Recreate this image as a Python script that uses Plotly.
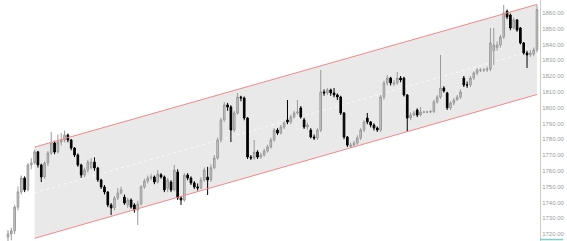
import plotly.graph_objects as go

# ---- data -------------------------------------------------------------
opens = [1718.0, 1720.0, 1722.0, 1737.0, 1746.6, 1755.4, 1748.0, 1763.7, 1765.0, 1772.0,
         1763.7, 1756.1, 1764.9, 1771.3, 1777.6, 1771.9, 1778.2, 1779.5, 1782.7, 1779.5,
         1774.4, 1770.0, 1763.7, 1757.3, 1760.5, 1762.0, 1765.6, 1761.8, 1754.2, 1749.8,
         1746.6, 1738.4, 1736.5, 1742.8, 1746.0, 1743.4, 1738.5, 1741.5, 1738.4, 1735.2,
         1739.0, 1749.8, 1753.5, 1755.4, 1756.1, 1752.9, 1757.5, 1756.1, 1749.0, 1752.9,
         1747.9, 1759.2, 1742.8, 1741.5, 1757.3, 1755.4, 1752.3, 1749.8, 1749.1, 1754.2,
         1756.0, 1754.2, 1762.0, 1768.1, 1779.5, 1792.2, 1801.7, 1800.4, 1785.8, 1796.6,
         1806.7, 1806.1, 1793.4, 1768.7, 1768.1, 1771.9, 1768.7, 1770.0, 1772.5, 1775.1,
         1779.5, 1785.8, 1783.9, 1787.7, 1792.2, 1790.9, 1794.1, 1796.6, 1799.8, 1792.2,
         1787.7, 1785.8, 1781.4, 1780.8, 1785.8, 1809.9, 1809.3, 1811.2, 1809.3, 1808.0,
         1806.7, 1796.6, 1781.4, 1775.5, 1776.3, 1777.6, 1780.8, 1785.8, 1793.4, 1790.9,
         1789.0, 1787.1, 1785.8, 1806.7, 1815.6, 1818.7, 1815.0, 1815.6, 1818.7, 1818.7,
         1808.0, 1793.4, 1795.3, 1798.5, 1795.3, 1797.0, 1797.2, 1797.2, 1797.5, 1803.6,
         1806.7, 1812.4, 1809.3, 1799.8, 1802.9, 1804.8, 1806.7, 1818.7, 1814.3, 1814.3,
         1818.7, 1821.9, 1823.5, 1823.8, 1823.8, 1824.5, 1836.0, 1838.0, 1839.6, 1844.7,
         1861.0, 1858.6, 1850.4, 1855.5, 1850.4, 1840.9, 1834.6, 1833.3, 1834.0, 1836.5]

closes = [1720.0, 1722.0, 1737.0, 1746.6, 1755.4, 1748.0, 1763.7, 1765.0, 1772.0, 1763.7,
          1756.1, 1764.9, 1771.3, 1777.6, 1771.9, 1778.2, 1779.5, 1782.7, 1779.5, 1774.4,
          1770.0, 1763.7, 1757.3, 1760.5, 1765.6, 1765.6, 1761.8, 1754.2, 1749.8, 1746.6,
          1738.4, 1736.5, 1742.8, 1746.0, 1748.0, 1739.6, 1741.5, 1737.1, 1735.2, 1739.0,
          1749.8, 1753.5, 1755.4, 1756.1, 1752.9, 1758.0, 1756.1, 1747.9, 1754.2, 1747.9,
          1760.5, 1742.8, 1741.5, 1757.3, 1755.4, 1752.3, 1749.8, 1749.1, 1754.2, 1760.5,
          1754.2, 1762.0, 1768.1, 1779.5, 1792.2, 1801.7, 1800.4, 1785.8, 1796.6, 1806.7,
          1806.1, 1793.4, 1768.7, 1768.1, 1771.9, 1768.7, 1770.0, 1772.5, 1775.1, 1779.5,
          1785.8, 1783.9, 1787.7, 1790.3, 1790.9, 1794.1, 1796.6, 1797.2, 1794.1, 1787.7,
          1789.0, 1781.4, 1780.8, 1785.8, 1809.9, 1809.3, 1811.2, 1809.3, 1808.0, 1806.7,
          1796.6, 1781.4, 1776.3, 1776.3, 1777.6, 1780.8, 1785.8, 1790.9, 1790.9, 1789.0,
          1787.1, 1785.8, 1806.7, 1815.6, 1818.7, 1815.6, 1815.6, 1818.7, 1817.5, 1808.0,
          1793.4, 1795.3, 1796.6, 1795.3, 1797.2, 1797.2, 1797.2, 1797.5, 1803.6, 1806.7,
          1812.4, 1810.5, 1799.8, 1802.9, 1804.8, 1806.7, 1809.9, 1814.3, 1814.3, 1818.7,
          1821.9, 1823.8, 1823.8, 1823.8, 1824.5, 1840.9, 1839.6, 1839.6, 1844.7, 1859.9,
          1857.4, 1850.4, 1855.5, 1849.1, 1840.9, 1834.6, 1833.3, 1834.6, 1836.5, 1862.0]

highs = [1722.5, 1724.0, 1738.5, 1750.0, 1757.0, 1756.5, 1765.0, 1768.0, 1773.5, 1772.5,
         1764.5, 1766.0, 1772.5, 1784.6, 1779.0, 1783.0, 1783.9, 1785.5, 1783.5, 1780.0,
         1775.0, 1771.0, 1764.5, 1762.0, 1767.0, 1768.0, 1768.5, 1762.5, 1755.0, 1751.0,
         1747.0, 1739.5, 1744.0, 1749.1, 1750.0, 1745.0, 1743.0, 1742.5, 1739.5, 1741.0,
         1751.0, 1755.0, 1757.0, 1758.0, 1757.0, 1760.5, 1758.5, 1757.0, 1755.5, 1754.0,
         1763.7, 1761.0, 1744.0, 1758.5, 1758.5, 1756.5, 1753.5, 1752.0, 1756.0, 1762.0,
         1762.5, 1764.0, 1770.0, 1781.0, 1793.5, 1803.5, 1803.0, 1801.5, 1798.0, 1809.3,
         1807.5, 1807.0, 1794.0, 1770.0, 1779.5, 1773.0, 1771.5, 1774.0, 1776.5, 1781.0,
         1787.0, 1787.0, 1789.0, 1791.5, 1804.8, 1795.5, 1798.0, 1804.8, 1801.0, 1793.5,
         1790.5, 1787.0, 1783.0, 1787.0, 1823.8, 1811.5, 1812.5, 1812.0, 1812.4, 1809.0,
         1807.5, 1797.2, 1782.0, 1778.0, 1779.0, 1782.5, 1787.0, 1792.0, 1796.6, 1791.5,
         1790.0, 1788.0, 1808.0, 1817.0, 1820.6, 1819.5, 1817.5, 1822.5, 1820.0, 1819.5,
         1808.5, 1797.0, 1798.0, 1799.5, 1800.4, 1798.0, 1798.0, 1798.5, 1805.0, 1808.0,
         1833.3, 1813.5, 1810.0, 1804.0, 1806.0, 1808.0, 1811.5, 1820.0, 1816.5, 1820.0,
         1823.0, 1825.0, 1825.0, 1825.0, 1826.0, 1850.4, 1850.4, 1842.0, 1846.0, 1865.0,
         1862.0, 1859.5, 1857.0, 1856.0, 1851.0, 1841.5, 1836.0, 1836.5, 1838.0, 1865.0]

lows = [1715.0, 1716.0, 1720.0, 1735.0, 1745.0, 1746.5, 1747.0, 1761.0, 1764.0, 1762.0,
        1752.9, 1755.0, 1763.0, 1770.0, 1770.5, 1771.0, 1776.0, 1778.0, 1778.0, 1773.0,
        1768.7, 1762.5, 1755.5, 1756.0, 1759.0, 1761.0, 1760.0, 1753.0, 1748.5, 1745.0,
        1737.0, 1732.0, 1735.0, 1741.5, 1745.0, 1738.5, 1736.5, 1736.0, 1733.5, 1725.7,
        1738.0, 1748.5, 1752.0, 1754.0, 1751.5, 1752.0, 1755.0, 1746.5, 1746.5, 1746.5,
        1747.0, 1741.5, 1738.4, 1740.5, 1754.0, 1751.0, 1748.5, 1747.5, 1748.5, 1753.0,
        1744.7, 1753.0, 1761.0, 1767.0, 1778.0, 1791.0, 1798.0, 1778.2, 1784.5, 1795.5,
        1804.0, 1792.0, 1767.5, 1766.8, 1767.0, 1767.5, 1767.5, 1769.0, 1771.5, 1774.0,
        1778.5, 1782.7, 1783.0, 1786.5, 1789.5, 1789.5, 1793.0, 1795.5, 1793.0, 1786.5,
        1786.0, 1780.5, 1779.5, 1779.5, 1784.5, 1807.5, 1808.0, 1807.5, 1806.5, 1804.8,
        1795.3, 1780.0, 1775.0, 1774.5, 1775.5, 1776.5, 1779.5, 1784.5, 1789.5, 1787.5,
        1785.5, 1784.6, 1784.5, 1805.0, 1814.0, 1814.0, 1813.5, 1814.5, 1816.0, 1807.0,
        1784.6, 1792.0, 1794.5, 1794.0, 1794.5, 1796.5, 1796.5, 1796.5, 1796.5, 1802.5,
        1805.5, 1809.5, 1798.5, 1798.5, 1801.5, 1805.0, 1805.5, 1813.0, 1812.5, 1813.0,
        1817.5, 1820.5, 1822.5, 1822.5, 1822.5, 1823.0, 1827.0, 1836.0, 1838.0, 1843.5,
        1856.0, 1849.0, 1849.5, 1848.0, 1840.0, 1833.5, 1825.1, 1832.0, 1832.5, 1835.0]

bar_index = list(range(len(closes)))

# regression channel: start / end bar and boundary prices
channel_bars = [8, 159]
channel_upper = [1775.0, 1865.3]
channel_lower = [1717.3, 1808.3]
channel_mid = [(u + l) / 2 for u, l in zip(channel_upper, channel_lower)]

y_ticks = [1720, 1730, 1740, 1750, 1760, 1770, 1780, 1790, 1800, 1810,
           1820, 1830, 1840, 1850, 1860]

# ---- figure -----------------------------------------------------------
fig = go.Figure()

# channel fill as a shape beneath the candles
b0, b1 = channel_bars
path = (f"M {b0},{channel_upper[0]} L {b1},{channel_upper[1]} "
        f"L {b1},{channel_lower[1]} L {b0},{channel_lower[0]} Z")
fig.add_shape(type="path", path=path, xref="x", yref="y", layer="below",
              fillcolor="#e9e9e9", line=dict(width=0))
fig.add_shape(type="line", xref="x", yref="y", layer="below",
              x0=b0, x1=b1, y0=channel_mid[0], y1=channel_mid[1],
              line=dict(color="rgba(255,255,255,0.75)", width=1, dash="3px,3px"))

fig.add_trace(go.Candlestick(
    x=bar_index, open=opens, high=highs, low=lows, close=closes,
    increasing=dict(line=dict(color="#9a9a9a", width=1), fillcolor="#cccccc"),
    decreasing=dict(line=dict(color="#000000", width=1), fillcolor="#000000"),
    whiskerwidth=0, showlegend=False))

for ys in (channel_upper, channel_lower):
    fig.add_trace(go.Scatter(x=channel_bars, y=ys, mode="lines",
                             line=dict(color="#f08a8a", width=1),
                             hoverinfo="skip", showlegend=False))

fig.add_shape(type="line", xref="paper", yref="paper", x0=1.0, x1=1.043, y0=0.006, y1=0.006,
              line=dict(color="#7fcfc4", width=1.5))

fig.update_layout(
    width=567, height=241,
    margin=dict(l=0, r=27, t=0, b=0),
    paper_bgcolor="white", plot_bgcolor="white",
    xaxis=dict(range=[-2.4, 159.9], visible=False, rangeslider=dict(visible=False),
               showgrid=False, zeroline=False),
    yaxis=dict(range=[1715.57, 1868.1], side="right", tickvals=y_ticks,
               ticktext=[f"{v:.2f}" for v in y_ticks], showgrid=False, zeroline=False,
               showline=True, linecolor="#cccccc", linewidth=1, ticks="",
               tickfont=dict(family="Liberation Sans", size=6, color="#9c9c9c")),
    font=dict(family="Liberation Sans"),
)

fig.write_html("out.html")
